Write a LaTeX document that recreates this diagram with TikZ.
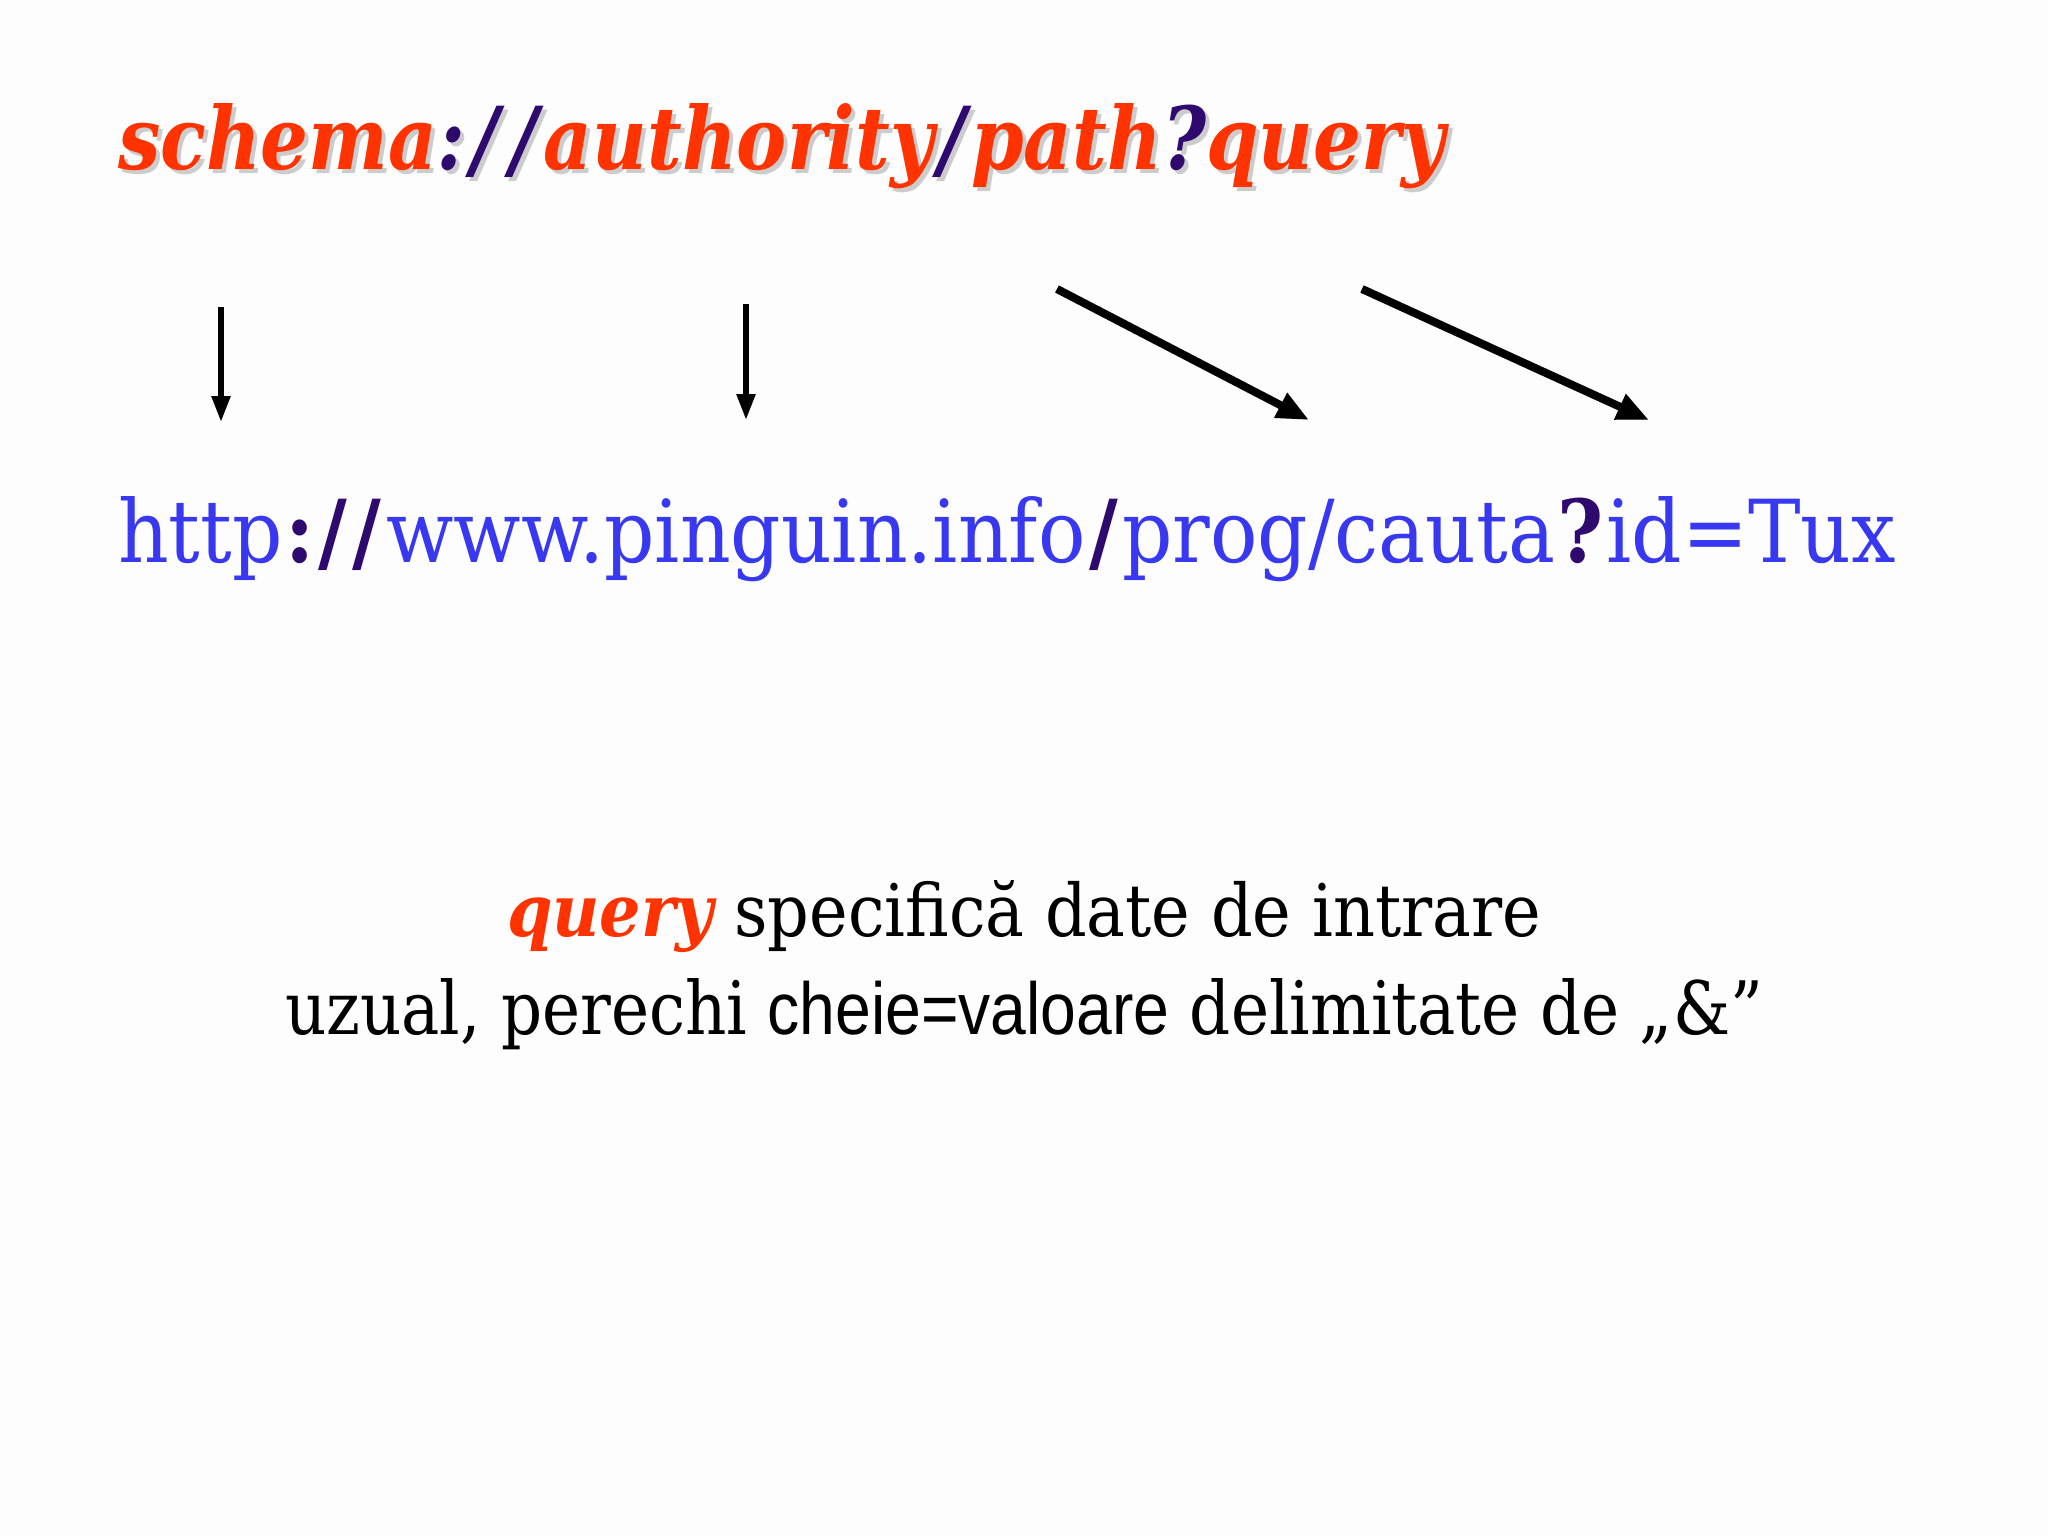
\documentclass[tikz,border=0pt]{standalone}
\usepackage{fontspec}
\usepackage{graphicx}
\setmainfont{DejaVu Serif}
\newfontfamily\sansf{Liberation Sans}
\usetikzlibrary{arrows.meta}
\definecolor{orng}{HTML}{FF3300}
\definecolor{purp}{HTML}{2E0A6E}
\definecolor{urlb}{HTML}{3838F0}
\definecolor{bgc}{HTML}{FDFDFD}
\definecolor{shd}{HTML}{CCCCCC}
\newcommand\titleline[2]{\fontsize{60}{70}\selectfont\bfseries\itshape\textcolor{#1}{schema}\textcolor{#2}{:\kern5pt/\kern9pt/\kern5pt}\textcolor{#1}{authority}\textcolor{#2}{\kern4pt/\kern4pt}\textcolor{#1}{path}\textcolor{#2}{?}\textcolor{#1}{query}}
\tikzset{
  txt/.style={anchor=base west, inner sep=0pt, outer sep=0pt},
  varrow/.style={line width=5.5pt, -{Triangle[length=26pt,width=18pt]}},
  darrow/.style={line width=8pt, -{Triangle[length=32pt,width=26pt]}},
}
\begin{document}
\begin{tikzpicture}[x=1pt,y=-1pt]
\fill[bgc] (0,0) rectangle (2048,1536);
\useasboundingbox (0,0) rectangle (2048,1536);
% title
\node[txt] (titleshadow) at (122,173) {\resizebox{1327pt}{66pt}{\titleline{shd}{shd}}};
\node[txt] (title) at (118,169) {\resizebox{1327pt}{66pt}{\titleline{orng}{purp}}};
% url
\node[txt] (url) at (118,562) {\resizebox{1778pt}{66pt}{\fontsize{60}{70}\selectfont\textcolor{urlb}{http}\textcolor{purp}{\bfseries\kern2pt:\kern3pt/\kern4pt/\kern4pt}\textcolor{urlb}{www.pinguin.info}\textcolor{purp}{\bfseries\kern3pt/\kern3pt}\textcolor{urlb}{prog/cauta}\textcolor{purp}{\bfseries\kern2pt?\kern2pt}\textcolor{urlb}{id=Tux}}};
% arrows
\coordinate (a1s) at (221,307); \coordinate (a1e) at (221,422);
\coordinate (a2s) at (746,304); \coordinate (a2e) at (746,420);
\coordinate (a3s) at (1057,289); \coordinate (a3e) at (1309,420);
\coordinate (a4s) at (1362,289); \coordinate (a4e) at (1649,420);
\draw[varrow] (a1s) -- (a1e);
\draw[varrow] (a2s) -- (a2e);
\draw[darrow, shd, shift={(3,5)}] (a3s) -- (a3e);
\draw[darrow, shd, shift={(3,5)}] (a4s) -- (a4e);
\draw[darrow] (a3s) -- (a3e);
\draw[darrow] (a4s) -- (a4e);
% description
\node[txt] (line1) at (507,936) {\resizebox{1034pt}{56pt}{\fontsize{60}{70}\selectfont\textcolor{orng}{\bfseries\itshape query} specifică date de intrare}};
\node[txt] (line2) at (285,1034) {\resizebox{1478pt}{56pt}{\fontsize{60}{70}\selectfont uzual, perechi {\sansf cheie=valoare} delimitate de „\&”}};
\end{tikzpicture}
\end{document}
